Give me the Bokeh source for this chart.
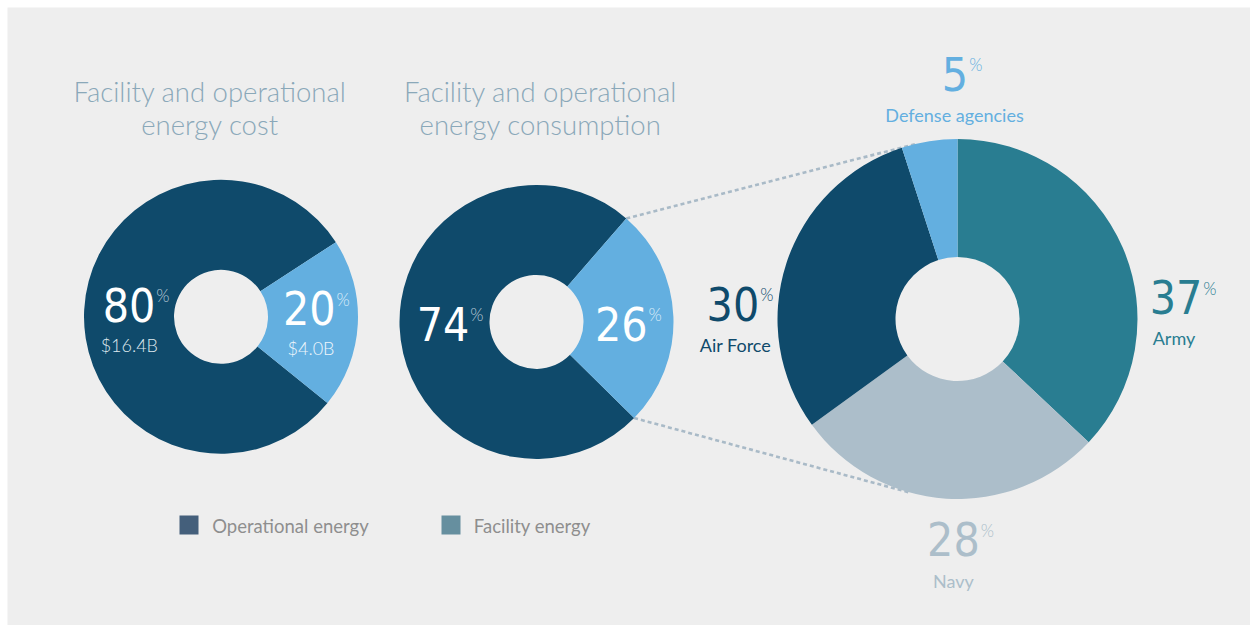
import math
from bokeh.plotting import figure
from bokeh.models import Range1d
from bokeh.core.properties import value
from bokeh.embed import file_html
from bokeh.resources import INLINE

# ---------------- data ----------------
energy_types = ["Operational energy", "Facility energy"]
cost_share = [80, 20]
cost_amount = ["$16.4B", "$4.0B"]
consumption_share = [74, 26]
services = ["Army", "Navy", "Air Force", "Defense agencies"]
service_share = [37, 28, 30, 5]
titles = [["Facility and operational", "energy cost"],
          ["Facility and operational", "energy consumption"]]

# ---------------- style ----------------
BG = "#eeeeee"
DARK = "#0f4a6b"
LIGHT = "#63afe0"
TEAL = "#297d91"
GREYBLUE = "#acbeca"
TITLE_C = "#8aa8b9"
LEG_TEXT = "#8e8e8e"
LEG_COLORS = ["#445f7b", "#668f9f"]
NUM_FONT = value("DejaVu Sans Condensed")
TXT_FONT = value("Lato Light")
LBL_FONT = value("Lato")
NUM_SIZE = 46
DIGIT_W = 0.572 * NUM_SIZE
DIGIT_H = 0.729 * NUM_SIZE
BASE_SHIFT = 0.4  # empirical correction of text baseline (fraction of font size)

W, H = 1250, 625
PAGE_H = 625


def Y(py):
    return PAGE_H - py


def YT(base, size):
    return Y(base - BASE_SHIFT * size)


p = figure(width=W, height=H, x_range=Range1d(7, 1250), y_range=Range1d(0, 618),
           output_backend="svg", toolbar_location=None, min_border=0,
           min_border_left=7, min_border_top=7,
           x_axis_location=None, y_axis_location=None)
p.grid.visible = False
p.outline_line_color = None
p.background_fill_color = BG
p.border_fill_color = "white"

# donut geometry (page coords)
D1 = dict(cx=220.5, cy=316.3, ri=47, ro=137)
D2 = dict(cx=536.0, cy=321.4, ri=47, ro=137)
D3 = dict(cx=957.0, cy=318.5, ri=62, ro=180)


def pt(d, ang_deg, r):
    a = math.radians(ang_deg)
    return d["cx"] + r * math.cos(a), Y(d["cy"]) + r * math.sin(a)


# connector lines (drawn first, underneath)
d2_light_start = 2.25 - consumption_share[1] / 100 * 180
d2_light_end = 2.25 + consumption_share[1] / 100 * 180
for a2, a3 in [(d2_light_end, 103.0), (d2_light_start, -105.0)]:
    x0, y0 = pt(D2, a2, D2["ro"])
    x1, y1 = pt(D3, a3, D3["ro"])
    p.line([x0, x1], [y0, y1], line_color="#a9bac7", line_width=2.6, line_dash="4 3")


def two_part(d, shares, colors, light_center):
    total = sum(shares)
    start = light_center + shares[1] / total * 180
    for s, c in zip(shares, colors):
        span = s / total * 360
        p.annular_wedge(x=d["cx"], y=Y(d["cy"]), inner_radius=d["ri"], outer_radius=d["ro"],
                        start_angle=math.radians(start), end_angle=math.radians(start + span),
                        color=c, line_color=None, direction="anticlock")
        start += span


two_part(D1, cost_share, [DARK, LIGHT], -3.0)
two_part(D2, consumption_share, [DARK, LIGHT], 2.25)

# donut 3, clockwise from top
svc_colors = [TEAL, GREYBLUE, DARK, LIGHT]
ang = 90.0
tot = sum(service_share)
for s, c in zip(service_share, svc_colors):
    span = s / tot * 360
    p.annular_wedge(x=D3["cx"], y=Y(D3["cy"]), inner_radius=D3["ri"], outer_radius=D3["ro"],
                    start_angle=math.radians(ang), end_angle=math.radians(ang - span),
                    color=c, line_color=None, direction="clock")
    ang -= span

# titles
for (cx, lines) in zip([209.5, 540.0], titles):
    for line, base in zip(lines, [101.7, 134.5]):
        p.text(x=[cx], y=[YT(base, 27.5)], text=[line], text_font=TXT_FONT, text_font_size="27.5px",
               text_color=TITLE_C, text_align="center", text_baseline="alphabetic")


def number(val, cx, base, color, pct_color):
    s = str(val)
    p.text(x=[cx], y=[YT(base, NUM_SIZE)], text=[s], text_font=NUM_FONT, text_font_size=f"{NUM_SIZE}px",
           text_color=color, text_align="center", text_baseline="alphabetic")
    px = cx + len(s) * DIGIT_W / 2 + 1
    p.text(x=[px], y=[YT(base - DIGIT_H + 13, 17)], text=["%"], text_font=TXT_FONT, text_font_size="17px",
           text_color=pct_color, text_align="left", text_baseline="alphabetic")


def label(txt, cx, base, color, size=19, font=TXT_FONT):
    p.text(x=[cx], y=[YT(base, size)], text=[txt], text_font=font, text_font_size=f"{size}px",
           text_color=color, text_align="center", text_baseline="alphabetic")


# donut 1 labels
number(cost_share[0], 128.5, 322.7, "white", "#b8c9d6")
label(cost_amount[0], 128.8, 351.7, "#dfe8ee", 18)
number(cost_share[1], 308.7, 326.0, "white", "#dcedf9")
label(cost_amount[1], 310.5, 354.3, "#eef6fc", 18)
# donut 2 labels
number(consumption_share[0], 442.5, 341.7, "white", "#b8c9d6")
number(consumption_share[1], 620.8, 341.7, "white", "#dcedf9")
# donut 3 labels
svc_pos = {"Army": (1175.5, 315.0, 1173.5, 345.0),
           "Navy": (952.9, 557.3, 953.0, 588.0),
           "Air Force": (732.4, 321.7, 735.0, 351.7),
           "Defense agencies": (954.5, 91.7, 954.0, 121.7)}
for name, s, c in zip(services, service_share, svc_colors):
    nx, nb, lx, lb = svc_pos[name]
    number(s, nx, nb, c, c)
    label(name, lx, lb, c, 18, LBL_FONT)

# legend
for name, c, x0, tx in zip(energy_types, LEG_COLORS, [179, 441], [211.7, 473.3]):
    p.quad(left=x0, right=x0 + 19, top=Y(515), bottom=Y(534), color=c, line_color=None)
    p.text(x=[tx], y=[YT(532.7, 18.5)], text=[name], text_font=LBL_FONT, text_font_size="18.5px",
           text_color=LEG_TEXT, text_align="left", text_baseline="alphabetic")

open("out.html", "w").write(file_html(p, INLINE))
